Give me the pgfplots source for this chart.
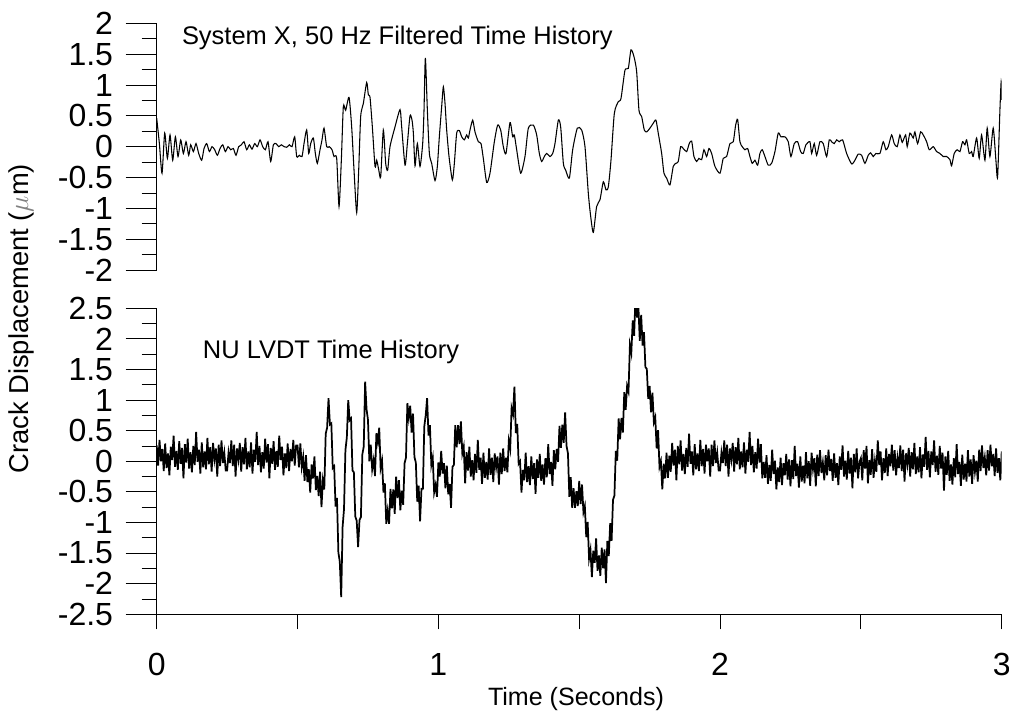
\documentclass[border=0pt]{standalone}
\usepackage{pgfplots}
\pgfplotsset{compat=1.18}
\usepackage{fontspec}
\setmainfont{Liberation Sans}
\pgfplotsset{
  common/.style={
    scale only axis, width=633.75pt, xmin=0, xmax=3,
    enlargelimits=false,
    axis line style={line width=0.75pt, black},
    tick style={line width=0.6pt, black},
    /pgf/number format/assume math mode=true,
    tick label style={font=\fontsize{24}{24}\selectfont},
  }
}
\begin{document}
\begin{tikzpicture}
\path[use as bounding box] (0,0) rectangle (756.75pt,533.25pt);
% ---------------- top panel
\begin{axis}[common,
  at={(117.53pt,330.75pt)}, anchor=south west, height=185pt,
  ymin=-2, ymax=2,
  axis x line=none, axis y line*=left,
  tick align=outside,
  major tick length=23.25pt, minor tick length=11.25pt,
  ytick={-2,-1.5,-1,-0.5,0,0.5,1,1.5,2},
  yticklabels={-2,-1.5,-1,-0.5,0,0.5,1,1.5,2},
  yticklabel style={xshift=-6pt},
  minor y tick num=1,
]
\addplot[black, line width=0.8pt, smooth, tension=0.4] table {
t v
0 0.46
0.0095 0.05
0.0189 -0.43
0.0284 0.22
0.0379 -0.19
0.0473 0.19
0.0568 -0.22
0.0663 0.16
0.0757 -0.16
0.0852 0.11
0.0947 -0.11
0.1041 0.08
0.1136 -0.14
0.1207 0.03
0.1302 -0.08
0.1396 0.05
0.1491 -0.11
0.1597 -0.22
0.168 -0.03
0.1775 0.05
0.187 -0.08
0.1964 0
0.2059 -0.05
0.2154 -0.14
0.2248 -0.03
0.2343 0.03
0.2438 -0.08
0.2532 0
0.2627 -0.05
0.2722 -0.03
0.2816 -0.14
0.2911 0
0.3006 0.03
0.31 0.08
0.3195 -0.05
0.329 0.03
0.3384 -0.04
0.3479 0.05
0.3574 0
0.3668 0.11
0.3763 0
0.3858 -0.05
0.3952 0.08
0.4047 -0.24
0.4142 0.03
0.4236 0.05
0.4331 0
0.4426 0.03
0.452 0
0.4615 -0.01
0.471 0.03
0.4804 0
0.4899 0.16
0.497 -0.16
0.5064 -0.14
0.5159 -0.16
0.523 0.05
0.5325 0.27
0.5396 -0.11
0.5467 0.05
0.5562 0.14
0.5632 -0.11
0.5703 -0.27
0.5798 -0.05
0.5869 0.11
0.594 0.3
0.6035 0
0.6129 0
0.6224 -0.05
0.6295 -0.16
0.639 -0.19
0.6473 -0.97
0.6555 -0.22
0.6626 0.65
0.6709 0.59
0.6828 0.8
0.6922 0.32
0.7005 -0.38
0.71 -1.07
0.7171 -0.38
0.7242 0.49
0.7336 0.7
0.7455 1.04
0.7514 0.84
0.7573 0.8
0.7656 0.32
0.7751 -0.32
0.781 -0.22
0.7881 -0.37
0.7952 -0.49
0.8046 0.27
0.8129 -0.27
0.82 -0.38
0.8283 0
0.846 0.32
0.8638 0.6
0.8697 0.32
0.8816 -0.3
0.8899 0.05
0.8993 0.5
0.9064 0.43
0.9112 0.22
0.9171 -0.31
0.9254 0.05
0.9348 -0.32
0.9443 0.05
0.949 0.59
0.9538 1.44
0.9609 0.59
0.968 -0.11
0.9762 -0.27
0.9881 -0.55
0.9963 -0.32
1.0034 0.16
1.0117 0.65
1.0176 0.97
1.0236 0.7
1.0295 0.27
1.0378 -0.16
1.0496 -0.54
1.0567 -0.27
1.065 0.22
1.0745 0.26
1.0828 0.16
1.0922 0.11
1.1005 0.19
1.1064 0.14
1.1123 0.27
1.1218 0.43
1.13 0.24
1.1419 0.08
1.1514 0.05
1.1596 -0.19
1.1715 -0.58
1.1833 -0.43
1.1987 0.08
1.2105 0.35
1.2212 0.27
1.2306 0
1.2401 -0.11
1.2543 0.39
1.2638 0.16
1.2697 0.19
1.278 -0.05
1.2922 -0.43
1.3075 -0.16
1.3194 0.3
1.3371 0.35
1.349 0.19
1.3584 -0.11
1.3667 -0.24
1.3762 -0.16
1.3845 -0.11
1.3963 -0.16
1.4058 -0.11
1.414 0.05
1.4259 0.43
1.4342 0.32
1.4437 -0.27
1.4519 -0.38
1.465 -0.51
1.4768 -0.05
1.4933 0.3
1.5087 0.27
1.5205 0
1.5324 -0.76
1.5407 -1.13
1.5501 -1.39
1.5619 -0.97
1.5738 -0.86
1.5856 -0.57
1.5951 -0.7
1.6034 -0.65
1.6128 -0.22
1.6247 0.54
1.6389 0.73
1.6483 0.78
1.6625 1.24
1.6743 1.27
1.6838 1.57
1.6944 1.46
1.7039 1.22
1.7122 0.59
1.7216 0.49
1.7311 0.27
1.7394 0.24
1.7511 0.3
1.7629 0.38
1.7724 0.43
1.7806 0.22
1.7927 -0.11
1.8009 -0.43
1.8104 -0.51
1.8221 -0.62
1.8339 -0.32
1.8435 -0.27
1.8517 -0.24
1.8601 0
1.8694 -0.03
1.8814 -0.08
1.8907 0.05
1.8992 0.09
1.9074 -0.16
1.9169 -0.24
1.9251 -0.19
1.9347 -0.21
1.9429 -0.05
1.9524 -0.16
1.9606 -0.03
1.9702 -0.11
1.9819 -0.32
1.9997 -0.43
2.0114 -0.19
2.0234 -0.16
2.0352 0.05
2.0469 0.08
2.0554 0.35
2.0625 0.44
2.0706 0.08
2.0789 0
2.0884 -0.05
2.098 -0.03
2.1061 -0.16
2.1143 -0.27
2.1239 -0.22
2.1335 -0.3
2.1416 -0.11
2.1498 -0.05
2.1594 -0.16
2.1711 -0.3
2.1832 -0.27
2.1949 -0.08
2.2066 0.22
2.2162 0.16
2.2304 0.16
2.2421 0.08
2.2517 -0.16
2.2634 0.05
2.2755 0.08
2.2861 -0.08
2.2954 -0.11
2.3049 0.03
2.3191 0.08
2.3252 -0.11
2.3344 0.05
2.3429 -0.14
2.3546 0.08
2.3664 0.05
2.3784 -0.16
2.3877 0.11
2.3962 0.08
2.4054 0.05
2.4139 0.11
2.4232 0.08
2.4352 0.11
2.4494 -0.11
2.4672 -0.28
2.4789 -0.22
2.4906 -0.12
2.5027 -0.14
2.5144 -0.27
2.5261 -0.14
2.5346 -0.1
2.5439 -0.16
2.5534 -0.11
2.5676 -0.11
2.5793 0.08
2.5889 -0.05
2.5971 0
2.6092 0.19
2.6184 0.05
2.629 0
2.6386 0.19
2.6468 0.07
2.6589 0.19
2.6645 0
2.6741 0.22
2.6858 0.14
2.6918 0.24
2.7014 0.05
2.7121 0.24
2.7214 0.19
2.7334 0.08
2.7427 -0.05
2.7569 0
2.7689 -0.08
2.7806 -0.11
2.7924 -0.16
2.8044 -0.16
2.8161 -0.21
2.8221 -0.31
2.8314 -0.11
2.842 -0.05
2.8516 -0.08
2.8612 0.08
2.8694 0.03
2.8754 0.11
2.8846 -0.11
2.8931 -0.08
2.8988 -0.16
2.9109 0.14
2.9201 -0.19
2.9286 0.19
2.9404 -0.22
2.9485 0.3
2.9581 -0.16
2.9698 0.3
2.9794 -0.22
2.9854 -0.49
2.9936 0.59
2.998 1.05
3 0.76
};
\end{axis}
% ---------------- bottom panel: x ticks only
\begin{axis}[common,
  at={(117.53pt,72.53pt)}, anchor=south west, height=229.5pt,
  ymin=-2.5, ymax=2.5,
  axis y line=none, axis x line*=bottom,
  tick align=outside,
  major tick length=11.25pt,
  xtick={0,0.5,1,1.5,2,2.5,3},
  xticklabels={0,,1,,2,,3},
  xticklabel style={yshift=-14.5pt},
]
\end{axis}
% ---------------- bottom panel: data and y ticks
\begin{axis}[common,
  at={(117.53pt,72.53pt)}, anchor=south west, height=229.5pt,
  ymin=-2.5, ymax=2.5,
  axis x line*=bottom, axis y line*=left,
  tick align=outside,
  major tick length=23.25pt, minor tick length=11.25pt,
  xtick=\empty,
  ytick={-2.5,-2,-1.5,-1,-0.5,0,0.5,1,1.5,2,2.5},
  yticklabels={-2.5,-2,-1.5,-1,-0.5,0,0.5,1,1.5,2,2.5},
  yticklabel style={xshift=-6pt},
  minor y tick num=1,
]
\addplot[black, line width=1.3pt] table[row sep=\\] {
t v\\
0 0.26\\0.005 -0.07\\0.01 0.35\\0.015 0\\0.02 0.2\\0.025 -0.16\\0.03 0.29\\0.035 -0.11\\0.04 0.13\\0.045 -0.23\\
0.05 0.24\\0.055 0.02\\0.06 0.42\\0.065 -0.09\\0.07 0.17\\0.075 -0.14\\0.08 0.33\\0.085 -0.04\\0.09 0.22\\0.095 -0.28\\
0.1 0.28\\0.105 -0.02\\0.11 0.37\\0.115 -0.12\\0.12 0.15\\0.125 -0.18\\0.13 0.25\\0.135 -0.06\\0.14 0.48\\0.145 -0.01\\
0.15 0.19\\0.155 -0.2\\0.16 0.31\\0.165 -0.1\\0.17 0.16\\0.175 -0.13\\0.18 0.38\\0.185 -0.05\\0.19 0.23\\0.195 -0.17\\
0.2 0.3\\0.205 0.03\\0.21 0.21\\0.215 -0.25\\0.22 0.27\\0.225 -0.08\\0.23 0.34\\0.235 -0.03\\0.24 0.14\\0.245 -0.15\\
0.25 -0.15\\0.255 0.14\\0.26 -0.03\\0.265 0.34\\0.27 -0.08\\0.275 0.27\\0.28 -0.25\\0.285 0.21\\0.29 0.03\\0.295 0.3\\
0.3 -0.17\\0.305 0.23\\0.31 -0.05\\0.315 0.38\\0.32 -0.13\\0.325 0.16\\0.33 -0.1\\0.335 0.31\\0.34 -0.2\\0.345 0.19\\
0.35 -0.01\\0.355 0.48\\0.36 -0.06\\0.365 0.25\\0.37 -0.18\\0.375 0.15\\0.38 -0.12\\0.385 0.37\\0.39 -0.02\\0.395 0.28\\
0.4 -0.28\\0.405 0.22\\0.41 -0.04\\0.415 0.33\\0.42 -0.14\\0.425 0.17\\0.43 -0.09\\0.435 0.42\\0.44 0.02\\0.445 0.24\\
0.45 -0.23\\0.455 0.13\\0.46 -0.11\\0.465 0.29\\0.47 -0.16\\0.475 0.2\\0.48 0\\0.485 0.35\\0.49 -0.07\\0.495 0.26\\
0.5 0.26\\0.505 -0.1\\0.51 0.29\\0.515 -0.09\\0.52 0.07\\0.525 -0.32\\0.53 0.1\\0.535 -0.34\\0.54 -0.13\\0.545 -0.51\\
0.55 -0.05\\0.555 -0.28\\0.56 0.08\\0.565 -0.47\\0.57 -0.24\\0.575 -0.57\\0.58 -0.17\\0.585 -0.75\\0.59 -0.31\\0.595 -0.46\\
0.6 0.45\\0.605 0.55\\0.61 1.03\\0.615 0.6\\0.62 0.62\\0.625 -0.11\\0.63 -0.08\\0.635 -0.74\\0.64 -0.6\\0.645 -1.49\\
0.65 -1.64\\0.655 -2.22\\0.66 -1.07\\0.665 -0.78\\0.67 0.18\\0.675 0.39\\0.68 1\\0.685 0.67\\0.69 0.7\\0.695 -0.15\\
0.7 -0.18\\0.705 -0.9\\0.71 -0.97\\0.715 -1.4\\0.72 -0.96\\0.725 -0.91\\0.73 0.11\\0.735 0.24\\0.74 1.3\\0.745 0.85\\
0.75 0.68\\0.755 0\\0.76 0.27\\0.765 -0.13\\0.77 0.02\\0.775 -0.24\\0.78 0.46\\0.785 0.31\\0.79 0.55\\0.795 -0.11\\
0.8 0.01\\0.805 -0.51\\0.81 -0.36\\0.815 -1.02\\0.82 -0.81\\0.825 -1.02\\0.83 -0.45\\0.835 -0.77\\0.84 -0.46\\0.845 -0.86\\
0.85 -0.25\\0.855 -0.6\\0.86 -0.31\\0.865 -0.8\\0.87 -0.48\\0.875 -0.71\\0.88 -0.03\\0.885 0.06\\0.89 0.95\\0.895 0.71\\
0.9 0.91\\0.905 0.47\\0.91 0.78\\0.915 0.07\\0.92 -0.02\\0.925 -0.66\\0.93 -0.4\\0.935 -0.98\\0.94 -0.45\\0.945 -0.45\\
0.95 0.57\\0.955 0.75\\0.96 1.03\\0.965 0.42\\0.97 0.59\\0.975 -0.06\\0.98 0.06\\0.985 -0.51\\0.99 -0.39\\0.995 -0.58\\
1 -0.02\\1.005 -0.25\\1.01 0.17\\1.015 -0.2\\1.02 -0.03\\1.025 -0.44\\1.03 -0.07\\1.035 -0.54\\1.04 -0.37\\1.045 -0.76\\
1.05 -0.09\\1.055 -0.06\\1.06 0.59\\1.065 0.23\\1.07 0.59\\1.075 0.28\\1.08 0.65\\1.085 0.13\\1.09 0.24\\1.095 -0.36\\
1.1 0.15\\1.105 -0.15\\1.11 0.24\\1.115 -0.25\\1.12 0.02\\1.125 -0.31\\1.13 0.12\\1.135 -0.19\\1.14 0.35\\1.145 -0.14\\
1.15 0.06\\1.155 -0.37\\1.16 0.14\\1.165 -0.27\\1.17 -0.01\\1.175 -0.3\\1.18 0.21\\1.185 -0.22\\1.19 0.06\\1.195 -0.34\\
1.2 0.13\\1.205 -0.1\\1.21 0.08\\1.215 -0.38\\1.22 0.14\\1.225 -0.21\\1.23 0.21\\1.235 -0.16\\1.24 0.06\\1.245 -0.18\\
1.25 0.33\\1.255 0.2\\1.26 0.87\\1.265 0.77\\1.27 1.22\\1.275 0.46\\1.28 0.61\\1.285 -0.04\\1.29 0\\1.295 -0.51\\
1.3 -0.14\\1.305 -0.31\\1.31 0.14\\1.315 -0.34\\1.32 -0.08\\1.325 -0.39\\1.33 0.08\\1.335 -0.29\\1.34 -0.03\\1.345 -0.53\\
1.35 0.03\\1.355 -0.27\\1.36 0.12\\1.365 -0.32\\1.37 -0.05\\1.375 -0.38\\1.38 0.05\\1.385 -0.26\\1.39 0.28\\1.395 -0.21\\
1.4 -0.01\\1.405 -0.4\\1.41 0.18\\1.415 -0.13\\1.42 0.2\\1.425 -0.01\\1.43 0.58\\1.435 0.22\\1.44 0.6\\1.445 0.3\\
1.45 0.8\\1.455 0.25\\1.46 0.13\\1.465 -0.58\\1.47 -0.26\\1.475 -0.76\\1.48 -0.44\\1.485 -0.76\\1.49 -0.49\\1.495 -0.73\\
1.5 -0.32\\1.505 -0.7\\1.51 -0.38\\1.515 -0.83\\1.52 -0.73\\1.525 -1.24\\1.53 -0.99\\1.535 -1.59\\1.54 -1.45\\1.545 -1.89\\
1.55 -1.46\\1.555 -1.66\\1.56 -1.26\\1.565 -1.79\\1.57 -1.54\\1.575 -1.87\\1.58 -1.41\\1.585 -1.75\\1.59 -1.44\\1.595 -1.99\\
1.6 -1.3\\1.605 -1.55\\1.61 -1.01\\1.615 -1.3\\1.62 -0.63\\1.625 -0.56\\1.63 0.17\\1.635 0.01\\1.64 0.7\\1.645 0.36\\
1.65 0.71\\1.655 0.47\\1.66 1.13\\1.665 0.84\\1.67 1.23\\1.675 1.14\\1.68 1.9\\1.685 1.77\\1.69 2.3\\1.695 2.05\\
1.7 2.72\\1.705 2.35\\1.71 2.55\\1.715 1.97\\1.72 2.39\\1.725 1.89\\1.73 2.11\\1.735 1.54\\1.74 1.51\\1.745 1.02\\
1.75 1.23\\1.755 0.8\\1.76 1.12\\1.765 0.64\\1.77 0.72\\1.775 0.21\\1.78 0.51\\1.785 -0.09\\1.79 0\\1.795 -0.46\\
1.8 -0.04\\1.805 -0.28\\1.81 0.14\\1.815 -0.27\\1.82 0.09\\1.825 -0.17\\1.83 0.3\\1.835 -0.07\\1.84 0.19\\1.845 -0.31\\
1.85 0.25\\1.855 -0.05\\1.86 0.34\\1.865 -0.15\\1.87 0.12\\1.875 -0.21\\1.88 0.22\\1.885 -0.09\\1.89 0.45\\1.895 -0.04\\
1.9 0.16\\1.905 -0.23\\1.91 0.28\\1.915 -0.13\\1.92 0.13\\1.925 -0.16\\1.93 0.35\\1.935 -0.08\\1.94 0.2\\1.945 -0.2\\
1.95 0.27\\1.955 0\\1.96 0.21\\1.965 -0.25\\1.97 0.27\\1.975 -0.08\\1.98 0.34\\1.985 -0.03\\1.99 0.14\\1.995 -0.15\\
2 -0.15\\2.005 0.14\\2.01 -0.03\\2.015 0.34\\2.02 -0.08\\2.025 0.27\\2.03 -0.25\\2.035 0.21\\2.04 0.03\\2.045 0.3\\
2.05 -0.17\\2.055 0.23\\2.06 -0.05\\2.065 0.38\\2.07 -0.13\\2.075 0.16\\2.08 -0.1\\2.085 0.31\\2.09 -0.2\\2.095 0.19\\
2.1 -0.01\\2.105 0.48\\2.11 -0.06\\2.115 0.25\\2.12 -0.18\\2.125 0.15\\2.13 -0.12\\2.135 0.37\\2.14 -0.02\\2.145 0.28\\
2.15 -0.28\\2.155 -0.01\\2.16 -0.27\\2.165 0.1\\2.17 -0.37\\2.175 -0.06\\2.18 -0.32\\2.185 0.19\\2.19 -0.21\\2.195 0.01\\
2.2 -0.46\\2.205 -0.1\\2.21 -0.34\\2.215 0.06\\2.22 -0.39\\2.225 -0.03\\2.23 -0.23\\2.235 0.12\\2.24 -0.3\\2.245 0.03\\
2.25 -0.41\\2.255 0.02\\2.26 -0.29\\2.265 0.25\\2.27 -0.24\\2.275 -0.04\\2.28 -0.43\\2.285 0.08\\2.29 -0.33\\2.295 -0.07\\
2.3 -0.36\\2.305 0.15\\2.31 -0.28\\2.315 0\\2.32 -0.4\\2.325 0.14\\2.33 -0.13\\2.335 0.05\\2.34 -0.41\\2.345 0.11\\
2.35 -0.24\\2.355 0.18\\2.36 -0.19\\2.365 -0.02\\2.37 -0.31\\2.375 0.1\\2.38 -0.23\\2.385 0.19\\2.39 -0.16\\2.395 0.04\\
2.4 -0.32\\2.405 0.13\\2.41 -0.27\\2.415 -0.03\\2.42 -0.39\\2.425 0.08\\2.43 -0.14\\2.435 0.26\\2.44 -0.25\\2.445 0.01\\
2.45 -0.3\\2.455 0.17\\2.46 -0.2\\2.465 0.06\\2.47 -0.44\\2.475 0.12\\2.48 -0.18\\2.485 0.21\\2.49 -0.28\\2.495 -0.01\\
2.5 0.05\\2.505 -0.31\\2.51 0.18\\2.515 -0.12\\2.52 0.25\\2.525 -0.36\\2.53 0.02\\2.535 -0.22\\2.54 0.2\\2.545 -0.27\\
2.55 0.01\\2.555 -0.17\\2.56 0.34\\2.565 -0.06\\2.57 0.16\\2.575 -0.31\\2.58 0.05\\2.585 -0.19\\2.59 0.21\\2.595 -0.24\\
2.6 0.12\\2.605 -0.08\\2.61 0.27\\2.615 -0.15\\2.62 0.18\\2.625 -0.23\\2.63 0.06\\2.635 -0.11\\2.64 0.26\\2.645 -0.16\\
2.65 0.19\\2.655 -0.33\\2.66 0.13\\2.665 -0.05\\2.67 0.22\\2.675 -0.25\\2.68 0.15\\2.685 -0.13\\2.69 0.3\\2.695 -0.21\\
2.7 0.08\\2.705 -0.18\\2.71 0.23\\2.715 -0.28\\2.72 0.11\\2.725 -0.09\\2.73 0.4\\2.735 -0.14\\2.74 0.17\\2.745 -0.26\\
2.75 0.16\\2.755 -0.06\\2.76 0.34\\2.765 -0.17\\2.77 0.09\\2.775 -0.22\\2.78 0.25\\2.785 -0.12\\2.79 0.14\\2.795 -0.48\\
2.8 0.08\\2.805 -0.22\\2.81 0.17\\2.815 -0.32\\2.82 -0.05\\2.825 -0.38\\2.83 0.05\\2.835 -0.26\\2.84 0.28\\2.845 -0.21\\
2.85 -0.01\\2.855 -0.4\\2.86 0.11\\2.865 -0.3\\2.87 -0.04\\2.875 -0.33\\2.88 0.18\\2.885 -0.25\\2.89 0.03\\2.895 -0.37\\
2.9 0.1\\2.905 -0.17\\2.91 0.01\\2.915 -0.33\\2.92 0.19\\2.925 -0.16\\2.93 0.26\\2.935 -0.11\\2.94 0.06\\2.945 -0.23\\
2.95 0.18\\2.955 -0.15\\2.96 0.27\\2.965 -0.08\\2.97 0.12\\2.975 -0.24\\2.98 0.21\\2.985 -0.19\\2.99 0.05\\2.995 -0.31\\
3 0.16\\
};
\end{axis}
% ---------------- texts
\node[anchor=base west, inner sep=0pt, font=\fontsize{19.1}{20}\selectfont] at (136.3pt,500.0pt) {System X, 50 Hz Filtered Time History};
\node[anchor=base west, inner sep=0pt, font=\fontsize{19.1}{20}\selectfont] at (152.0pt,264.0pt) {NU LVDT Time History};
\node[rotate=90, inner sep=0pt, font=\fontsize{20.5}{21}\selectfont] at (15.75pt,294.2pt) {Crack Displacement ({\color{gray}$\mu$}m)};
\node[anchor=base, inner sep=0pt, font=\fontsize{18.8}{20}\selectfont] at (432pt,4.5pt) {Time (Seconds)};
\end{tikzpicture}
\end{document}
